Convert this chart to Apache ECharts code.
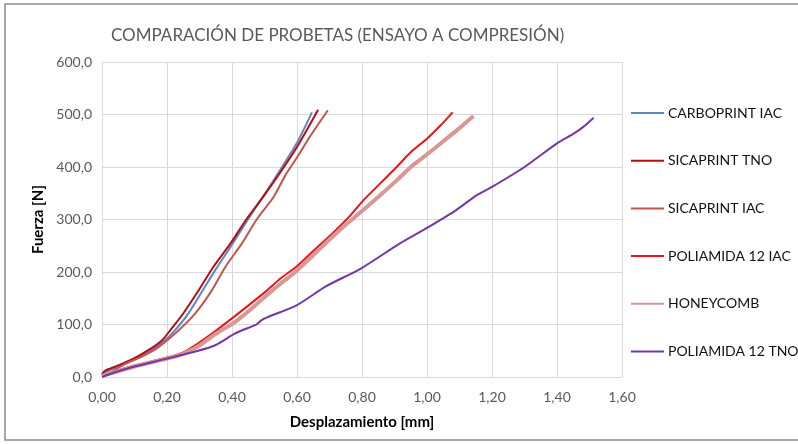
<!DOCTYPE html>
<html>
<head>
<meta charset="utf-8">
<script src="https://cdn.jsdelivr.net/npm/echarts@6/dist/echarts.min.js"></script>
<style>
  html, body { margin: 0; padding: 0; background: #ffffff; }
  #chart { width: 798px; height: 444px; }
</style>
</head>
<body>
<div id="chart"></div>
<script>
// Curvas fuerza–desplazamiento: [desplazamiento (mm), fuerza (N)]
const carboprintIAC = [[0,3],[0.02,12],[0.06,23],[0.1,34],[0.15,50],[0.19,68],[0.22,86],[0.26,116],[0.3,155],[0.35,205],[0.4,252],[0.45,301],[0.5,348],[0.55,396],[0.6,446],[0.646,504]];
const sicaprintTNO = [[0,5],[0.01,12],[0.05,22],[0.1,36],[0.15,54],[0.185,70],[0.21,89],[0.25,121],[0.29,158],[0.343,210],[0.395,254],[0.446,302],[0.497,344],[0.549,390],[0.6,438],[0.665,509]];
const sicaprintIAC = [[0,2],[0.03,10],[0.072,25],[0.12,38],[0.174,57],[0.236,89],[0.287,121],[0.338,165],[0.38,210],[0.43,254],[0.478,302],[0.528,343],[0.565,385],[0.6,418],[0.64,458],[0.695,508]];
const poliamida12IAC = [[0,3],[0.05,13],[0.1,22],[0.2,37],[0.25,47],[0.3,66],[0.35,88],[0.405,114],[0.45,136],[0.508,165],[0.55,188],[0.6,211],[0.65,240],[0.713,276],[0.76,305],[0.805,337],[0.85,365],[0.908,401],[0.95,428],[1.0,454],[1.04,478],[1.079,504]];
const honeycomb = [[0,2],[0.05,11],[0.1,20],[0.2,35],[0.25,44],[0.3,60],[0.35,82],[0.41,105],[0.45,125],[0.5,152],[0.55,178],[0.6,203],[0.65,232],[0.7,262],[0.75,290],[0.8,316],[0.85,343],[0.908,375],[0.95,400],[1.0,424],[1.05,449],[1.1,474],[1.143,497]];
const poliamida12TNO = [[0,0],[0.04,9],[0.1,20],[0.2,35],[0.29,49],[0.35,61],[0.41,83],[0.46,96],[0.475,100],[0.49,108],[0.51,114],[0.6,137],[0.69,173],[0.795,206],[0.918,255],[1.0,284],[1.09,318],[1.15,345],[1.2,362],[1.3,400],[1.4,445],[1.45,463],[1.48,476],[1.513,494]];

const seriesNames = ['CARBOPRINT IAC','SICAPRINT TNO','SICAPRINT IAC','POLIAMIDA 12 IAC','HONEYCOMB','POLIAMIDA 12 TNO'];
const seriesData = [carboprintIAC, sicaprintTNO, sicaprintIAC, poliamida12IAC, honeycomb, poliamida12TNO];
const seriesColors = ['#5b88c2','#b50d12','#c25552','#e81518','#d89896','#7337a6'];
const seriesWidths = [2, 2, 2, 2, 4, 2];

const xTicks = { min: 0, max: 1.6, interval: 0.2 };
const yTicks = { min: 0, max: 600, interval: 100 };

const FONT = 'Lato, "Open Sans", sans-serif';
const chart = echarts.init(document.getElementById('chart'), null, { renderer: 'canvas' });

chart.setOption({
  backgroundColor: '#ffffff',
  animation: false,
  title: {
    text: 'COMPARACIÓN DE PROBETAS (ENSAYO A COMPRESIÓN)',
    left: 106, top: 22,
    textStyle: { fontFamily: FONT, fontSize: 17, fontWeight: 'normal', color: '#595959' }
  },
  graphic: [{
    type: 'rect', silent: true, z: -1,
    shape: { x: 5, y: 4, width: 800, height: 436 },
    style: { fill: 'none', stroke: '#8c8c8c', lineWidth: 1.5 }
  }],
  legend: {
    orient: 'vertical', left: 630, top: 105, padding: 0,
    itemWidth: 33, itemHeight: 16, itemGap: 31.7,
    itemStyle: { opacity: 0 },
    textStyle: { fontFamily: FONT, fontSize: 14, lineHeight: 16, color: '#111111', padding: [0, 0, 0, -1] },
    data: seriesNames
  },
  grid: { left: 102, right: 176, top: 62, bottom: 67 },
  xAxis: {
    type: 'value', min: xTicks.min, max: xTicks.max, interval: xTicks.interval,
    name: 'Desplazamiento [mm]', nameLocation: 'middle', nameGap: 38,
    nameTextStyle: { fontFamily: FONT, fontSize: 15, fontWeight: 'bold', color: '#000' },
    axisLine: { show: true, lineStyle: { color: '#d9d9d9' } },
    axisTick: { show: false },
    axisLabel: { fontFamily: FONT, fontSize: 14, color: '#595959', margin: 13,
      formatter: v => v.toFixed(2).replace('.', ',') },
    splitLine: { show: true, lineStyle: { color: '#d9d9d9', width: 1 } }
  },
  yAxis: {
    type: 'value', min: yTicks.min, max: yTicks.max, interval: yTicks.interval,
    name: 'Fuerza [N]', nameLocation: 'middle', nameGap: 48, nameRotate: 90,
    nameTextStyle: { fontFamily: FONT, fontSize: 15, fontWeight: 'bold', color: '#000' },
    axisLine: { show: true, lineStyle: { color: '#d9d9d9' } },
    axisTick: { show: false },
    axisLabel: { fontFamily: FONT, fontSize: 14, color: '#595959', margin: 10,
      formatter: v => v.toFixed(1).replace('.', ',') },
    splitLine: { show: true, lineStyle: { color: '#d9d9d9', width: 1 } }
  },
  series: seriesNames.map((name, i) => ({
    name: name,
    type: 'line',
    data: seriesData[i],
    smooth: 0.25,
    symbol: 'none',
    showSymbol: false,
    color: seriesColors[i],
    lineStyle: { color: seriesColors[i], width: seriesWidths[i] },
    emphasis: { disabled: true }
  }))
});
</script>
</body>
</html>
